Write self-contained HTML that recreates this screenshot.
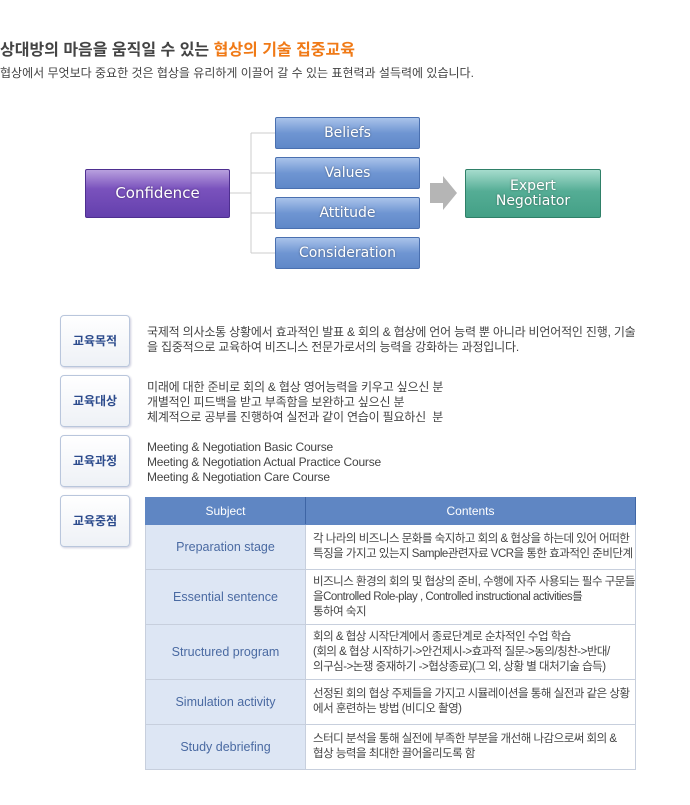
<!DOCTYPE html><html><head><meta charset="utf-8"><style>
body{margin:0;width:690px;height:805px;background:#fff;font-family:"Liberation Sans","Noto Sans CJK KR",sans-serif;position:relative;overflow:hidden}
.a{position:absolute}
.b{position:absolute;color:#fff;text-align:center;border-radius:2px;font-family:"DejaVu Sans","Liberation Sans",sans-serif;text-shadow:0 0 2px rgba(0,0,0,.4)}
.blue{left:275px;width:143px;height:30px;line-height:30px;font-size:14px;background:linear-gradient(#a9c3ea,#6f95d2 50%,#5f88c8);border:1px solid #4a70b0}
.lab{position:absolute;left:60px;width:68px;height:50px;border:1px solid #b9c6dc;border-radius:4px;background:linear-gradient(#fff,#eef1f6);box-shadow:1px 1px 2px #ccd;color:#2c4b8c;font-size:12px;text-align:center;line-height:50px;font-weight:bold}
.txt{position:absolute;left:147px;font-size:12px;color:#444;line-height:15px;letter-spacing:-0.2px}
table{position:absolute;left:145px;top:497px;width:490px;border-collapse:collapse;font-size:11.5px;table-layout:fixed}
th{background:#5f86c3;color:#fff;font-weight:normal;height:24px;border:1px solid #5f86c3;border-right:1px solid #3e65a5;font-size:12px}
td{border:1px solid #c7cfdd;color:#444;line-height:15px;padding:0 0 0 7px;letter-spacing:-0.5px;white-space:nowrap;overflow:hidden}
td.s{background:#dde6f4;color:#4a6aa2;text-align:center;font-size:12.5px;letter-spacing:0;padding:0}
</style></head><body>
<div class="a" style="left:0;top:36px;font-size:16px;font-weight:bold;color:#444">상대방의 마음을 움직일 수 있는 <span style="color:#f07a17">협상의 기술 집중교육</span></div>
<div class="a" style="left:0;top:64px;font-size:12px;color:#444">협상에서 무엇보다 중요한 것은 협상을 유리하게 이끌어 갈 수 있는 표현력과 설득력에 있습니다.</div>
<svg class="a" style="left:0;top:0" width="690" height="300">
<path d="M230 193H251M251 133V253M251 133H275M251 173H275M251 213H275M251 253H275" stroke="#ccc" stroke-width="1" fill="none"/>
<polygon points="430,183 443,183 443,176 457,193 443,210 443,203 430,203" fill="#b5b5b5"/>
</svg>
<div class="b" style="left:85px;top:169px;width:143px;height:47px;line-height:47px;font-size:15px;background:linear-gradient(#b8a0de,#7a52bd 40%,#6440ad);border:1px solid #4e2f90">Confidence</div>
<div class="b blue" style="top:117px">Beliefs</div>
<div class="b blue" style="top:157px">Values</div>
<div class="b blue" style="top:197px">Attitude</div>
<div class="b blue" style="top:237px">Consideration</div>
<div class="b" style="left:465px;top:169px;width:134px;height:47px;font-size:14px;line-height:15px;background:linear-gradient(#a6dccd,#55ad95 45%,#43a086);border:1px solid #2f8068"><div style="padding-top:9px">Expert<br>Negotiator</div></div>
<div class="lab" style="top:315px">교육목적</div>
<div class="lab" style="top:375px">교육대상</div>
<div class="lab" style="top:435px">교육과정</div>
<div class="lab" style="top:495px">교육중점</div>
<div class="txt" style="top:325px">국제적 의사소통 상황에서 효과적인 발표 &amp; 회의 &amp; 협상에 언어 능력 뿐 아니라 비언어적인 진행, 기술<br>을 집중적으로 교육하여 비즈니스 전문가로서의 능력을 강화하는 과정입니다.</div>
<div class="txt" style="top:380px">미래에 대한 준비로 회의 &amp; 협상 영어능력을 키우고 싶으신 분<br>개별적인 피드백을 받고 부족함을 보완하고 싶으신 분<br>체계적으로 공부를 진행하여 실전과 같이 연습이 필요하신 &nbsp;분</div>
<div class="txt" style="top:440px">Meeting &amp; Negotiation Basic Course<br>Meeting &amp; Negotiation Actual Practice Course<br>Meeting &amp; Negotiation Care Course</div>
<table>
<colgroup><col style="width:160px"><col style="width:330px"></colgroup>
<tr><th>Subject</th><th>Contents</th></tr>
<tr style="height:45px"><td class="s">Preparation stage</td><td>각 나라의 비즈니스 문화를 숙지하고 회의 &amp; 협상을 하는데 있어 어떠한<br>특징을 가지고 있는지 Sample관련자료 VCR을 통한 효과적인 준비단계</td></tr>
<tr style="height:55px"><td class="s">Essential sentence</td><td>비즈니스 환경의 회의 및 협상의 준비, 수행에 자주 사용되는 필수 구문들<br>을Controlled Role-play , Controlled instructional activities를<br>통하여 숙지</td></tr>
<tr style="height:55px"><td class="s">Structured program</td><td>회의 &amp; 협상 시작단계에서 종료단계로 순차적인 수업 학습<br>(회의 &amp; 협상 시작하기-&gt;안건제시-&gt;효과적 질문-&gt;동의/칭찬-&gt;반대/<br>의구심-&gt;논쟁 중재하기 -&gt;협상종료)(그 외, 상황 별 대처기술 습득)</td></tr>
<tr style="height:45px"><td class="s">Simulation activity</td><td>선정된 회의 협상 주제들을 가지고 시뮬레이션을 통해 실전과 같은 상황<br>에서 훈련하는 방법 (비디오 촬영)</td></tr>
<tr style="height:45px"><td class="s">Study debriefing</td><td>스터디 분석을 통해 실전에 부족한 부분을 개선해 나감으로써 회의 &amp;<br>협상 능력을 최대한 끌어올리도록 함</td></tr>
</table>
</body></html>
